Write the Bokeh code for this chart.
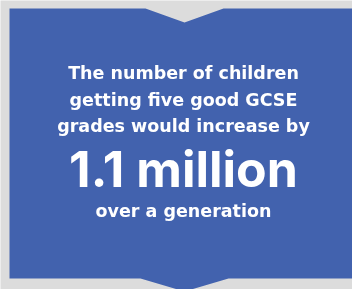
from bokeh.plotting import figure
from bokeh.models import Range1d
from bokeh.core.properties import value
from bokeh.embed import file_html
from bokeh.resources import INLINE

# Content
headline_lines = ["The number of children", "getting five good GCSE", "grades would increase by"]
big_value = ["1.1 million"]
footer = ["over a generation"]

W, H = 352, 289
BG = "#dcdcdc"
BLUE = "#4262ae"
FONT_SMALL = "DejaVu Sans"
FONT_BIG = "Inter"

p = figure(width=W, height=H, output_backend="svg", toolbar_location=None,
           x_range=Range1d(0, W), y_range=Range1d(H, 0),
           min_border=0, outline_line_color=None,
           background_fill_color=BG, border_fill_color=BG)
p.axis.visible = False
p.grid.visible = False
p.styles = {"position": "fixed", "left": "0px", "top": "0px"}

# Banner shape with notches
xs = [9, 145, 184, 223, 352, 352, 228, 184, 140, 9]
ys = [8, 8, 22, 8, 8, 278, 278, 291, 278, 278]
p.patch(xs, ys, fill_color=BLUE, line_color=None)

cx = 183
p.text(x=[cx] * 3, y=[72, 99, 125], text=headline_lines,
       text_font=value(FONT_SMALL), text_font_style="bold", text_font_size="17.5px",
       text_color="white", text_align="center", text_baseline="alphabetic")
p.text(x=[cx], y=[168], text=big_value,
       text_font=value(FONT_BIG), text_font_style="bold", text_font_size="50px",
       text_color="white", text_align="center", text_baseline="alphabetic")
p.text(x=[cx], y=[210], text=footer,
       text_font=value(FONT_SMALL), text_font_style="bold", text_font_size="17.5px",
       text_color="white", text_align="center", text_baseline="alphabetic")

open("out.html", "w").write(file_html(p, INLINE))
